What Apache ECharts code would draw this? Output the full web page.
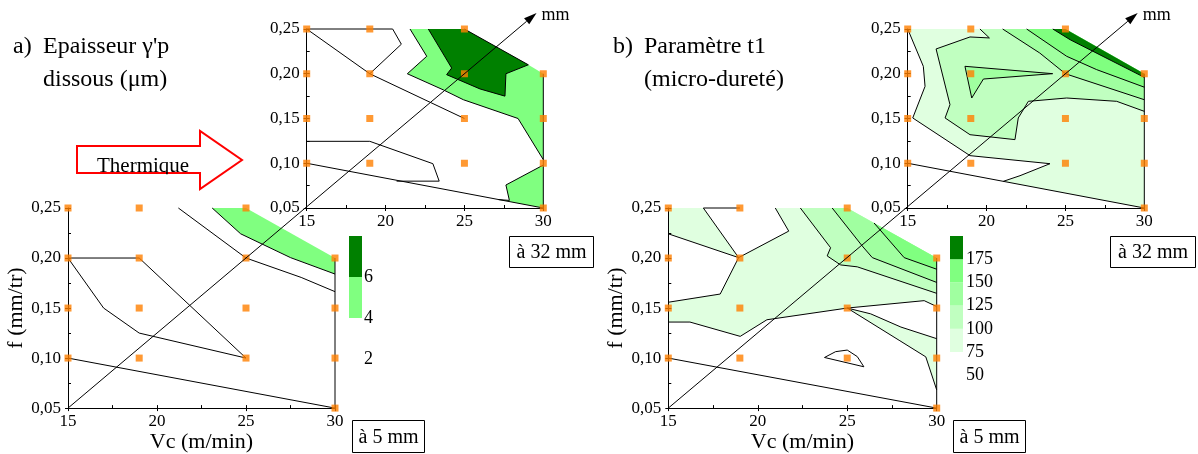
<!DOCTYPE html>
<html><head><meta charset="utf-8">
<script src="https://cdn.jsdelivr.net/npm/echarts@6/dist/echarts.min.js"></script>
<style>html,body{margin:0;padding:0;background:#fff}#c{width:1198px;height:454px}</style>
</head><body><div id="c"></div>
<script>
// ---------- axes / ticks ----------
const vcTicks = [15, 20, 25, 30];
const fTicks = [0.05, 0.10, 0.15, 0.20, 0.25];
// measured points (Vc, f)
const measurePoints = [[15,0.25],[19,0.25],[25,0.25],[15,0.20],[19,0.20],[25,0.20],[30,0.20],
  [15,0.15],[19,0.15],[25,0.15],[30,0.15],[15,0.10],[19,0.10],[25,0.10],[30,0.10],[30,0.05]];

// ---------- legends ----------
const legendALevels = [4, 6, 8];
const legendAColors = ['#80ff80', '#008000'];
const legendBLevels = [75, 100, 125, 150, 175, 200];
const legendBColors = ['#e0ffe0', '#c0ffc0', '#a0ffa0', '#80ff80', '#008000'];

// ---------- a) épaisseur, 32 mm ----------
const aTopLight = [[21.55,0.25],[25,0.25],[29.05,0.21],[30,0.20],[30,0.104],[28.4,0.150],[24.93,0.171],[23.66,0.182],[21.38,0.200],[22.61,0.2195]];
const aTopLightLow = [[30,0.098],[27.63,0.0757],[27.85,0.0585],[27.15,0.0594],[30,0.05]];
const aTopDark = [[22.71,0.25],[25,0.25],[29.05,0.21],[27.63,0.200],[27.57,0.175],[25.99,0.183],[23.87,0.199],[24.19,0.2064]];
const aTopLines = [
  [[21.55,0.25],[22.61,0.2195],[21.38,0.2],[23.66,0.182],[24.93,0.171],[28.4,0.15],[30,0.104]],
  [[22.71,0.25],[24.19,0.2064],[23.87,0.199],[25.99,0.183],[27.57,0.175],[27.63,0.2],[29.05,0.21],[25,0.25]],
  [[30,0.098],[27.63,0.0757],[27.85,0.0585],[27.15,0.0594]],
  [[15,0.25],[19,0.20],[25,0.15]],
  [[15,0.25],[20.45,0.25],[21.0,0.233],[19.0,0.20]],
  [[15,0.1245],[19,0.1245],[23.0,0.0995],[23.4,0.080],[20.7,0.080]],
  [[15,0.10],[30,0.05],[30,0.20]]
];
// ---------- a) épaisseur, 5 mm ----------
const aBotLight = [[23.1,0.25],[25,0.25],[30,0.20],[30,0.184],[27.5,0.2004],[24.7,0.2242]];
const aBotLines = [
  [[23.1,0.25],[24.7,0.2242],[27.5,0.2004],[30,0.184]],
  [[21.2,0.25],[25,0.20],[28.1,0.1806],[30,0.1664]],
  [[15,0.20],[19,0.20],[25,0.10]],
  [[15,0.20],[17,0.15],[19,0.125],[25,0.10]],
  [[15,0.10],[30,0.05],[30,0.20]]
];
// ---------- b) t1, 32 mm ----------
const bTopDomain = [[15,0.25],[25,0.25],[30,0.20],[30,0.05],[15,0.10]];
const bTopWhite = [[15,0.25],[15.99,0.2083],[16.10,0.1859],[15.32,0.1506],[18.95,0.1085],[24.02,0.0995],[22.12,0.0861],[21.06,0.0798],[15,0.10]];
const bTop100 = [[19.58,0.25],[25,0.25],[30,0.20],[30,0.158],[28.25,0.1692],[25.08,0.1729],[22.65,0.1692],[22.01,0.1506],[21.80,0.1264],[18.95,0.1319],[17.37,0.1506],[17.68,0.1655],[16.80,0.2277],[18.95,0.2411],[20.18,0.240]];
const bTop125 = [[21.02,0.25],[25,0.25],[30,0.20],[30,0.171],[25,0.20],[23.37,0.2232]];
const bTop125Lobe = [[18.63,0.2083],[24.19,0.2001],[19.80,0.1941],[19.06,0.1729]];
const bTop150 = [[22.54,0.25],[25,0.25],[30,0.20],[30,0.185],[26.98,0.2046],[25.08,0.2195]];
const bTop175 = [[24.2,0.25],[25,0.25],[30,0.20],[30,0.196],[25.3,0.238]];
const bTopLines = [
  [[15,0.25],[15.99,0.2083],[16.10,0.1859],[15.32,0.1506],[18.95,0.1085],[24.02,0.0995],[22.12,0.0861],[21.06,0.0798]],
  [[19.58,0.25],[20.18,0.240],[18.95,0.2411],[16.80,0.2277],[17.68,0.1655],[17.37,0.1506],[18.95,0.1319],[21.80,0.1264],[22.01,0.1506],[22.65,0.1692],[25.08,0.1729],[28.25,0.1692],[30,0.158]],
  [[21.02,0.25],[23.37,0.2232],[25,0.20],[30,0.171]],
  [[18.63,0.2083],[24.19,0.2001],[19.80,0.1941],[19.06,0.1729],[18.63,0.2083]],
  [[22.54,0.25],[25.08,0.2195],[26.98,0.2046],[30,0.185]],
  [[24.2,0.25],[25.3,0.238],[30,0.196]],
  [[15,0.10],[30,0.05],[30,0.20]]
];
// ---------- b) t1, 5 mm ----------
const bBot75TL = [[15,0.25],[16.96,0.25],[18.93,0.2004],[15,0.2242]];
const bBot75 = [[20.98,0.25],[25,0.25],[30,0.20],[30,0.1515],[29.3,0.1574],[25,0.15],[20.51,0.1383],[19.02,0.1217],[16.21,0.136],[15,0.136],[15,0.1558],[17.9,0.164],[18.93,0.2004],[21.73,0.2269]];
const bBot100 = [[22.38,0.25],[25,0.25],[30,0.20],[30,0.1647],[25.56,0.1912],[24.63,0.1931],[23.88,0.2021],[24.07,0.2103]];
const bBot125 = [[24.16,0.25],[25,0.25],[30,0.20],[30,0.1756],[26.4,0.2004],[25.84,0.212]];
const bBot150 = [[26.5,0.235],[30,0.20],[30,0.1888],[28.18,0.2004]];
const bBot75Wedge = [[25,0.15],[26.31,0.1442],[28,0.131],[30,0.1194],[30,0.0682],[29.39,0.1012],[27.9,0.1178]];
const bBotLines = [
  [[15,0.2242],[18.93,0.2004],[17.9,0.164],[15,0.1558]],
  [[16.96,0.25],[18.93,0.2004],[21.73,0.2269],[20.98,0.25]],
  [[16.96,0.25],[19,0.25]],
  [[15,0.136],[16.21,0.136],[19.02,0.1217],[20.51,0.1383],[25,0.15],[29.3,0.1574],[30,0.1515]],
  [[22.38,0.25],[24.07,0.2103],[23.88,0.2021],[24.63,0.1931],[25.56,0.1912],[30,0.1647]],
  [[24.16,0.25],[25.84,0.212],[26.4,0.2004],[30,0.1756]],
  [[26.5,0.235],[28.18,0.2004],[30,0.1888]],
  [[25,0.15],[26.31,0.1442],[28,0.131],[30,0.1194]],
  [[25,0.15],[27.9,0.1178],[29.39,0.1012],[30,0.0682]],
  [[23.73,0.1006],[24.35,0.1064],[25,0.108],[25.56,0.1015],[25.93,0.0913],[23.73,0.1006]],
  [[15,0.10],[30,0.05],[30,0.20]]
];

const F = 'Liberation Serif';
const chart = echarts.init(document.getElementById('c'), null, {renderer: 'canvas'});

const grids = [
  {left: 306.7, top: 29, width: 236.6, height: 179},
  {left: 68, top: 208, width: 267, height: 202},
  {left: 907.7, top: 29, width: 236.6, height: 179},
  {left: 668.3, top: 208, width: 268.4, height: 202},
  {left: 349, top: 236, width: 13, height: 123},
  {left: 950, top: 236, width: 13, height: 139.2}
];

function mainX(g, named) {
  return {gridIndex: g, type: 'value', min: vcTicks[0], max: vcTicks[vcTicks.length - 1], interval: vcTicks[1] - vcTicks[0], z: 10,
    axisLine: {show: true, onZero: false, lineStyle: {color: '#000', width: 1}},
    axisTick: {show: true, length: 3, lineStyle: {color: '#000'}},
    axisLabel: {color: '#000', fontFamily: F, fontSize: 17, margin: 5},
    splitLine: {show: false},
    name: named ? 'Vc (m/min)' : '', nameLocation: 'middle', nameGap: 14,
    nameTextStyle: {color: '#000', fontFamily: F, fontSize: 22}};
}
function mainY(g, named) {
  return {gridIndex: g, type: 'value', min: fTicks[0], max: fTicks[fTicks.length - 1], interval: 0.05, z: 10,
    axisLine: {show: true, onZero: false, lineStyle: {color: '#000', width: 1}},
    axisTick: {show: true, length: 3, lineStyle: {color: '#000'}},
    axisLabel: {color: '#000', fontFamily: F, fontSize: 17, margin: 7,
      formatter: v => v.toFixed(2).replace('.', ',')},
    splitLine: {show: false},
    name: named ? 'f (mm/tr)' : '', nameLocation: 'middle', nameGap: 30, nameRotate: 90,
    nameTextStyle: {color: '#000', fontFamily: F, fontSize: 22}};
}
function minorX(g) {
  return {gridIndex: g, type: 'value', position: 'bottom', min: 15, max: 30, interval: 2.5, z: 10,
    axisLine: {show: false}, axisTick: {show: true, inside: true, length: 3, lineStyle: {color: '#000'}},
    axisLabel: {show: false}, splitLine: {show: false}};
}
function minorY(g) {
  return {gridIndex: g, type: 'value', position: 'left', min: 0.05, max: 0.25, interval: 0.025, z: 10,
    axisLine: {show: false}, axisTick: {show: true, inside: true, length: 3, lineStyle: {color: '#000'}},
    axisLabel: {show: false}, splitLine: {show: false}};
}

const xAxis = [mainX(0,false), mainX(1,true), mainX(2,false), mainX(3,true),
  minorX(0), minorX(1), minorX(2), minorX(3),
  {gridIndex: 4, type: 'value', min: 0, max: 1, show: false},
  {gridIndex: 5, type: 'value', min: 0, max: 1, show: false}];
const yAxis = [mainY(0,false), mainY(1,true), mainY(2,false), mainY(3,true),
  minorY(0), minorY(1), minorY(2), minorY(3),
  {gridIndex: 4, type: 'value', position: 'right', min: 2, max: legendALevels[legendALevels.length-1], interval: 2,
    axisLine: {show: false}, axisTick: {show: false}, splitLine: {show: false},
    axisLabel: {color: '#000', fontFamily: F, fontSize: 18, margin: 2, padding: [6,0,0,0],
      formatter: v => v === 8 ? '' : String(v)}},
  {gridIndex: 5, type: 'value', position: 'right', min: 50, max: legendBLevels[legendBLevels.length-1], interval: 25,
    axisLine: {show: false}, axisTick: {show: false}, splitLine: {show: false},
    axisLabel: {color: '#000', fontFamily: F, fontSize: 18, margin: 3, padding: [6,0,0,0],
      formatter: v => v === 200 ? '' : String(v)}}];

function fillSeries(g, polys) {
  return {type: 'custom', xAxisIndex: g, yAxisIndex: g, z: 1, silent: true, clip: false,
    data: polys.map((p, i) => [p.pts[0][0], p.pts[0][1], i]),
    renderItem: (params, api) => {
      const p = polys[params.dataIndex];
      return {type: 'polygon', shape: {points: p.pts.map(q => api.coord(q))},
        style: {fill: p.color, stroke: null, lineWidth: 0}};
    }};
}
function lineSeries(g, lines) {
  return {type: 'custom', xAxisIndex: g, yAxisIndex: g, z: 3, silent: true, clip: false,
    data: lines.map((l, i) => [l[0][0], l[0][1], i]),
    renderItem: (params, api) => {
      const l = lines[params.dataIndex];
      return {type: 'polyline', shape: {points: l.map(q => api.coord(q))},
        style: {stroke: '#000', lineWidth: 1, fill: null}};
    }};
}
function markerSeries(g) {
  return {type: 'scatter', xAxisIndex: g, yAxisIndex: g, data: measurePoints, symbol: 'rect', symbolSize: 7,
    itemStyle: {color: '#ff8000'}, z: 20, silent: true, clip: false};
}
function legendSeries(axisIdx, levels, colors) {
  const bands = colors.map((c, i) => [levels[i], levels[i + 1], i]);
  return {type: 'custom', xAxisIndex: axisIdx, yAxisIndex: axisIdx, z: 2, silent: true, clip: false,
    data: bands.map(b => [0.5, b[0], b[1], b[2]]),
    renderItem: (params, api) => {
      const b = bands[params.dataIndex];
      const p0 = api.coord([0, b[1]]), p1 = api.coord([1, b[0]]);
      return {type: 'rect', shape: {x: p0[0], y: p0[1], width: p1[0] - p0[0], height: p1[1] - p0[1]},
        style: {fill: colors[b[2]]}};
    }};
}

const series = [
  fillSeries(0, [{pts: aTopLight, color: '#80ff80'}, {pts: aTopLightLow, color: '#80ff80'}, {pts: aTopDark, color: '#008000'}]),
  lineSeries(0, aTopLines), markerSeries(0),
  fillSeries(1, [{pts: aBotLight, color: '#80ff80'}]),
  lineSeries(1, aBotLines), markerSeries(1),
  fillSeries(2, [{pts: bTopDomain, color: '#e0ffe0'}, {pts: bTopWhite, color: '#ffffff'}, {pts: bTop100, color: '#c0ffc0'},
    {pts: bTop125, color: '#a0ffa0'}, {pts: bTop125Lobe, color: '#a0ffa0'}, {pts: bTop150, color: '#80ff80'}, {pts: bTop175, color: '#008000'}]),
  lineSeries(2, bTopLines), markerSeries(2),
  fillSeries(3, [{pts: bBot75TL, color: '#e0ffe0'}, {pts: bBot75, color: '#e0ffe0'}, {pts: bBot100, color: '#c0ffc0'},
    {pts: bBot125, color: '#a0ffa0'}, {pts: bBot150, color: '#80ff80'}, {pts: bBot75Wedge, color: '#e0ffe0'}]),
  lineSeries(3, bBotLines), markerSeries(3),
  legendSeries(8, legendALevels, legendAColors),
  legendSeries(9, legendBLevels, legendBColors)
];

chart.setOption({animation: false, backgroundColor: '#fff', grid: grids, xAxis, yAxis, series});

// ---------- annotations ----------
function txt(text, x, y, size, align, valign) {
  return {type: 'text', z: 50, silent: true,
    style: {text, x, y, font: size + 'px "' + F + '"', fill: '#000',
      align: align || 'left', verticalAlign: valign || 'middle',
      textAlign: align || 'left', textVerticalAlign: valign || 'middle'}};
}
function box(label, x, y, w, h) {
  return [{type: 'rect', z: 40, silent: true, shape: {x, y, width: w, height: h},
      style: {fill: '#fff', stroke: '#000', lineWidth: 1}},
    txt(label, x + w / 2, y + h / 2 + 1, 20, 'center', 'middle')];
}
function arrow(botGrid, topGrid) {
  const S = chart.convertToPixel({xAxisIndex: botGrid, yAxisIndex: botGrid}, [15, 0.05]);
  const P = chart.convertToPixel({xAxisIndex: topGrid, yAxisIndex: topGrid}, [25, 0.20]);
  const k = 1.182;
  const T = [S[0] + (P[0] - S[0]) * k, S[1] + (P[1] - S[1]) * k];
  const L = Math.hypot(T[0] - S[0], T[1] - S[1]);
  const d = [(T[0] - S[0]) / L, (T[1] - S[1]) / L], n = [-d[1], d[0]];
  const B = [T[0] - d[0] * 13, T[1] - d[1] * 13];
  return [
    {type: 'line', z: 30, silent: true, shape: {x1: S[0], y1: S[1], x2: B[0], y2: B[1]}, style: {stroke: '#000', lineWidth: 1}},
    {type: 'polygon', z: 30, silent: true, shape: {points: [T, [B[0] + n[0] * 4, B[1] + n[1] * 4], [B[0] - n[0] * 4, B[1] - n[1] * 4]]}, style: {fill: '#000'}},
    txt('mm', T[0] + 5, T[1] + 2, 18, 'left', 'middle')
  ];
}

const graphic = [].concat(
  txt('a)', 13, 47, 24), txt("Epaisseur γ'p", 43, 47, 24), txt('dissous (μm)', 43, 80, 24),
  txt('b)', 613, 47, 24), txt('Paramètre t1', 644, 47, 24), txt('(micro-dureté)', 644, 80, 24),
  [{type: 'polygon', z: 35, silent: true, shape: {points: [[77,146],[200,146],[200,131],[242,160],[200,189],[200,173],[77,173]]},
    style: {fill: '#fff', stroke: '#ff0000', lineWidth: 2}}],
  [Object.assign(txt('Thermique', 97, 166, 21), {z: 36})],
  [{type: 'rect', z: 37, silent: true, shape: {x: 90, y: 174.2, width: 108, height: 8}, style: {fill: '#fff'}}],
  box('à 32 mm', 509.5, 236.5, 84, 31), box('à 5 mm', 352.5, 420.5, 72, 32),
  box('à 32 mm', 1110.5, 236.5, 85, 31), box('à 5 mm', 953.5, 420.5, 72, 32),
  arrow(1, 0), arrow(3, 2)
);
chart.setOption({graphic});
</script></body></html>
